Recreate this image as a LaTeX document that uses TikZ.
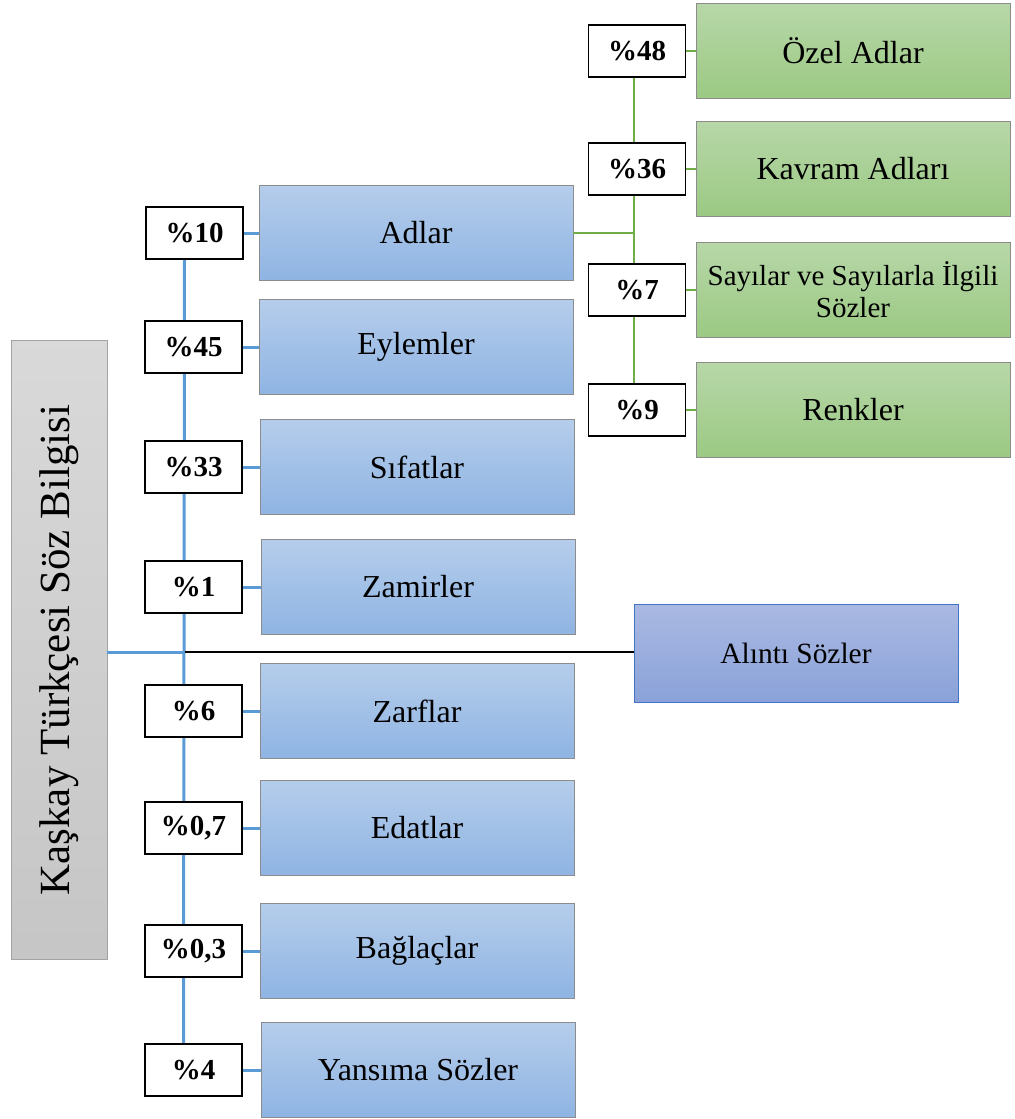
\documentclass[tikz,border=0pt]{standalone}
\usepackage{fontspec}
\setmainfont{Liberation Serif}
\usetikzlibrary{shapes,backgrounds}
\definecolor{bluetop}{HTML}{B5CDEB}
\definecolor{bluebot}{HTML}{8FB4E3}
\definecolor{greentop}{HTML}{B7D7A8}
\definecolor{greenbot}{HTML}{9BC983}
\definecolor{alintitop}{HTML}{AAB9E2}
\definecolor{alintibot}{HTML}{8AA2D9}
\definecolor{alintiline}{HTML}{4472C4}
\definecolor{trunkblue}{HTML}{5B9BD5}
\definecolor{trunkgreen}{HTML}{70AD47}
\definecolor{boxline}{HTML}{8C8C8C}
\tikzstyle{blockb} = [rectangle, draw=boxline, top color=bluetop, bottom color=bluebot,
    minimum width=157pt, minimum height=47.5pt, font=\fontsize{16}{18}\selectfont]
\tikzstyle{blockg} = [rectangle, draw=boxline, top color=greentop, bottom color=greenbot,
    minimum width=157pt, minimum height=47.5pt, align=center, font=\fontsize{16}{18}\selectfont]
\tikzstyle{pct} = [rectangle, draw, fill=white, line width=0.7pt,
    minimum width=48.5pt, minimum height=26pt, font=\fontsize{14.5}{16}\selectfont\bfseries]
\tikzstyle{lineb} = [draw=trunkblue, line width=1.5pt]
\tikzstyle{lineg} = [draw=trunkgreen, line width=1pt]

\begin{document}
\begin{tikzpicture}[x=0.5pt, y=-0.5pt, node distance=110.75pt]
    \useasboundingbox (0,0) rectangle (1014,1119);
    % Place nodes
    \node [rectangle, draw=boxline!80, rotate=90, top color=gray!30, bottom color=gray!45,
        minimum width=309.5pt, minimum height=48pt, font=\fontsize{21.5}{24}\selectfont]
        (kaskay) at (59,650) {Kaşkay Türkçesi Söz Bilgisi};
    \node [blockb] (adlar) at (416,233) {Adlar};
    \node [blockb] (eylem) at (416,347) {Eylemler};
    \node [blockb] (sifat) at (417,467) {Sıfatlar};
    \node [blockb] (zamir) at (418,587) {Zamirler};
    \node [blockb] (zarf) at (417,711) {Zarflar};
    \node [blockb] (edat) at (417,828) {Edatlar};
    \node [blockb] (baglac) at (417,951) {Bağlaçlar};
    \node [blockb] (yansima) at (418,1070) {Yansıma Sözler};
    \node [pct, left of=adlar] (p10) {\%10};
    \node [pct, left of=eylem, node distance=111.25pt] (p45) {\%45};
    \node [pct, left of=sifat, node distance=111.75pt] (p33) {\%33};
    \node [pct, left of=zamir, node distance=112.25pt] (p1) {\%1};
    \node [pct, left of=zarf, node distance=111.75pt] (p6) {\%6};
    \node [pct, left of=edat, node distance=111.75pt] (p07) {\%0,7};
    \node [pct, left of=baglac, node distance=111.75pt] (p03) {\%0,3};
    \node [pct, left of=yansima, node distance=112.25pt] (p4) {\%4};
    \node [blockg] (ozel) at (853,51) {Özel Adlar};
    \node [blockg] (kavram) at (853,169) {Kavram Adları};
    \node [blockg, font=\fontsize{14.5}{16}\selectfont] (sayi) at (853,290) {Sayılar ve Sayılarla İlgili\\Sözler};
    \node [blockg] (renk) at (853,410) {Renkler};
    \node [pct, left of=ozel, node distance=108pt] (p48) {\%48};
    \node [pct, left of=kavram, node distance=108pt] (p36) {\%36};
    \node [pct, left of=sayi, node distance=108pt] (p7) {\%7};
    \node [pct, left of=renk, node distance=108pt] (p9) {\%9};
    \node [rectangle, draw=alintiline, top color=alintitop, bottom color=alintibot,
        minimum width=162pt, minimum height=49pt, font=\fontsize{14.7}{16}\selectfont]
        (alinti) at (796,653) {Alıntı Sözler};
    \coordinate (hub) at ([xshift=-5pt]p10.south |- 0,652);
    % Draw edges
    \begin{pgfonlayer}{background}
        \path [lineb] ([xshift=-5pt]p10.south) -- ([xshift=-5pt]p4.north);
        \path [lineg] ([xshift=-1.5pt]p48.south) -- ([xshift=-1.5pt]p9.north);
    \end{pgfonlayer}
    \path [lineb] (kaskay.south |- hub) -- (hub);
    \draw [line width=0.6pt] (hub) -- (hub -| alinti.west);
    \foreach \a/\b in {p10/adlar, p45/eylem, p33/sifat, p1/zamir, p6/zarf, p07/edat, p03/baglac, p4/yansima}
        \path [lineb] (\a) -- (\b);
    \foreach \a/\b in {p48/ozel, p36/kavram, p7/sayi, p9/renk}
        \path [lineg] (\a) -- (\b);
    \path [lineg] (adlar.east) -- ([xshift=-1.5pt]adlar.east -| p48);
\end{tikzpicture}
\end{document}
